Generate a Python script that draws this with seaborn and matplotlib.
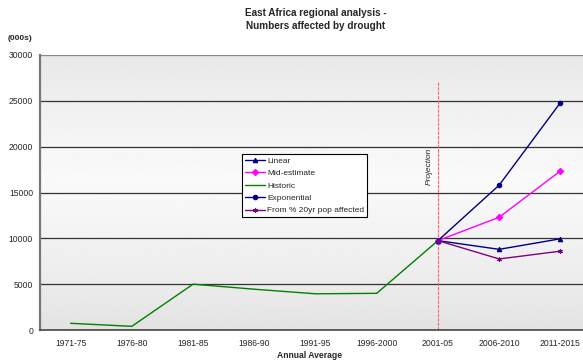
import numpy as np
import pandas as pd
import matplotlib
matplotlib.use("Agg")
import matplotlib.pyplot as plt
import seaborn as sns

periods = ["1971-75", "1976-80", "1981-85", "1986-90", "1991-95",
           "1996-2000", "2001-05", "2006-2010", "2011-2015"]

historic_periods = periods[:7]
historic = [730, 400, 5000, 4450, 3950, 4000, 9750]

proj_periods = periods[6:]
linear = [9750, 8800, 9950]
mid_estimate = [9750, 12300, 17350]
exponential = [9750, 15800, 24800]
pop_share = [9750, 7750, 8600]

series_order = ["Linear", "Mid-estimate", "Historic", "Exponential",
                "From % 20yr pop affected"]
colors = {"Linear": "#000080", "Mid-estimate": "#FF00FF", "Historic": "#008000",
          "Exponential": "#000080", "From % 20yr pop affected": "#800080"}
markers = {"Linear": "^", "Mid-estimate": "D", "Historic": None,
           "Exponential": "o", "From % 20yr pop affected": (6, 2, 0)}

projection_at = "2001-05"
projection_top = 27100

rows = []
for name, xs, vals in [("Linear", proj_periods, linear),
                       ("Mid-estimate", proj_periods, mid_estimate),
                       ("Historic", historic_periods, historic),
                       ("Exponential", proj_periods, exponential),
                       ("From % 20yr pop affected", proj_periods, pop_share)]:
    for p, v in zip(xs, vals):
        rows.append({"period": p, "pos": periods.index(p), "value": v, "series": name})
df = pd.DataFrame(rows)

sns.set_theme(style="white")
plt.rcParams["font.family"] = ["Liberation Sans", "DejaVu Sans"]

fig = plt.figure(figsize=(5.83, 3.63), dpi=100)
W, H = 583, 363
left, right, top, bottom = 40, 591, 55, 330
ax = fig.add_axes([left / W, 1 - bottom / H, (right - left) / W, (bottom - top) / H])

# shaded plot area: grey at top and bottom, lighter in the middle
yy = np.linspace(0, 1, 256)
shade = 0.885 + 0.095 * np.clip(1 - np.abs(yy - 0.55) / 0.55, 0, 1) ** 0.8
grad = np.tile(shade[:, None], (1, 2))
ax.imshow(grad, extent=[-0.5, 8.5, 0, 30000], origin="lower", aspect="auto",
          cmap="gray", vmin=0, vmax=1, zorder=0, interpolation="bilinear")

for yv in range(5000, 30001, 5000):
    ax.axhline(yv, color="#333333" if yv < 30000 else "#888888", lw=0.9, zorder=1)

for name in series_order:
    sub = df[df["series"] == name]
    kw = {}
    if markers[name] is not None:
        kw = dict(marker=markers[name], markersize=3.2, markeredgewidth=0.8,
                  markeredgecolor=colors[name], markerfacecolor=colors[name])
    sns.lineplot(data=sub, x="pos", y="value", color=colors[name], linewidth=1,
                 ax=ax, zorder=3, label=name, **kw)

ax.plot([periods.index(projection_at)] * 2, [0, projection_top],
        color="#FF6666", lw=0.8, ls=(0, (3, 1)), zorder=2)
ax.text(periods.index(projection_at) - 0.15, 17800, "Projection", rotation=90,
        ha="center", va="center", fontsize=6, style="italic", color="#222222")

ax.set_xlim(-0.5, 8.5)
ax.set_ylim(0, 30000)
ax.set_yticks(range(0, 30001, 5000))
ax.set_yticklabels([str(v) for v in range(0, 30001, 5000)], fontsize=6.2)
ax.set_xticks(np.arange(-0.5, 9, 1))
ax.set_xticklabels([])
ax.set_xticks(range(len(periods)), minor=True)
ax.set_xticklabels(periods, minor=True, fontsize=6.2)
ax.tick_params(axis="x", which="major", length=3, width=0.8, color="#333333", direction="out")
ax.tick_params(axis="x", which="minor", length=0, pad=6.5)
ax.tick_params(axis="y", length=3, width=0.8, color="#555555", direction="out", pad=2)
ax.set_xlabel("Annual Average", fontsize=6.2, fontweight="bold", va="center")
ax.xaxis.set_label_coords(((310 - left) / (right - left)), -(356 - bottom) / (bottom - top))
ax.set_ylabel("")

for s in ["top", "right"]:
    ax.spines[s].set_visible(False)
ax.spines["left"].set_color("#777777")
ax.spines["left"].set_linewidth(1.6)
ax.spines["bottom"].set_color("#444444")
ax.spines["bottom"].set_linewidth(1.2)

leg = ax.legend(loc="upper left", bbox_to_anchor=((242 - left) / (right - left), 1 - (154 - top) / (bottom - top)),
                fontsize=6, frameon=True, fancybox=False, framealpha=1,
                edgecolor="black", handlelength=2.4, handletextpad=0.3,
                borderpad=0.35, labelspacing=0.55, borderaxespad=0)
leg.get_frame().set_linewidth(0.8)
leg.set_zorder(5)

fig.text(316 / W, 1 - 19.5 / H, "East Africa regional analysis -\nNumbers affected by drought",
         ha="center", va="center", fontsize=7.2, fontweight="bold", linespacing=1.45)
fig.text(8 / W, 1 - 38 / H, "(000s)", ha="left", va="center", fontsize=6, fontweight="bold")

fig.savefig("out.png", dpi=100)
